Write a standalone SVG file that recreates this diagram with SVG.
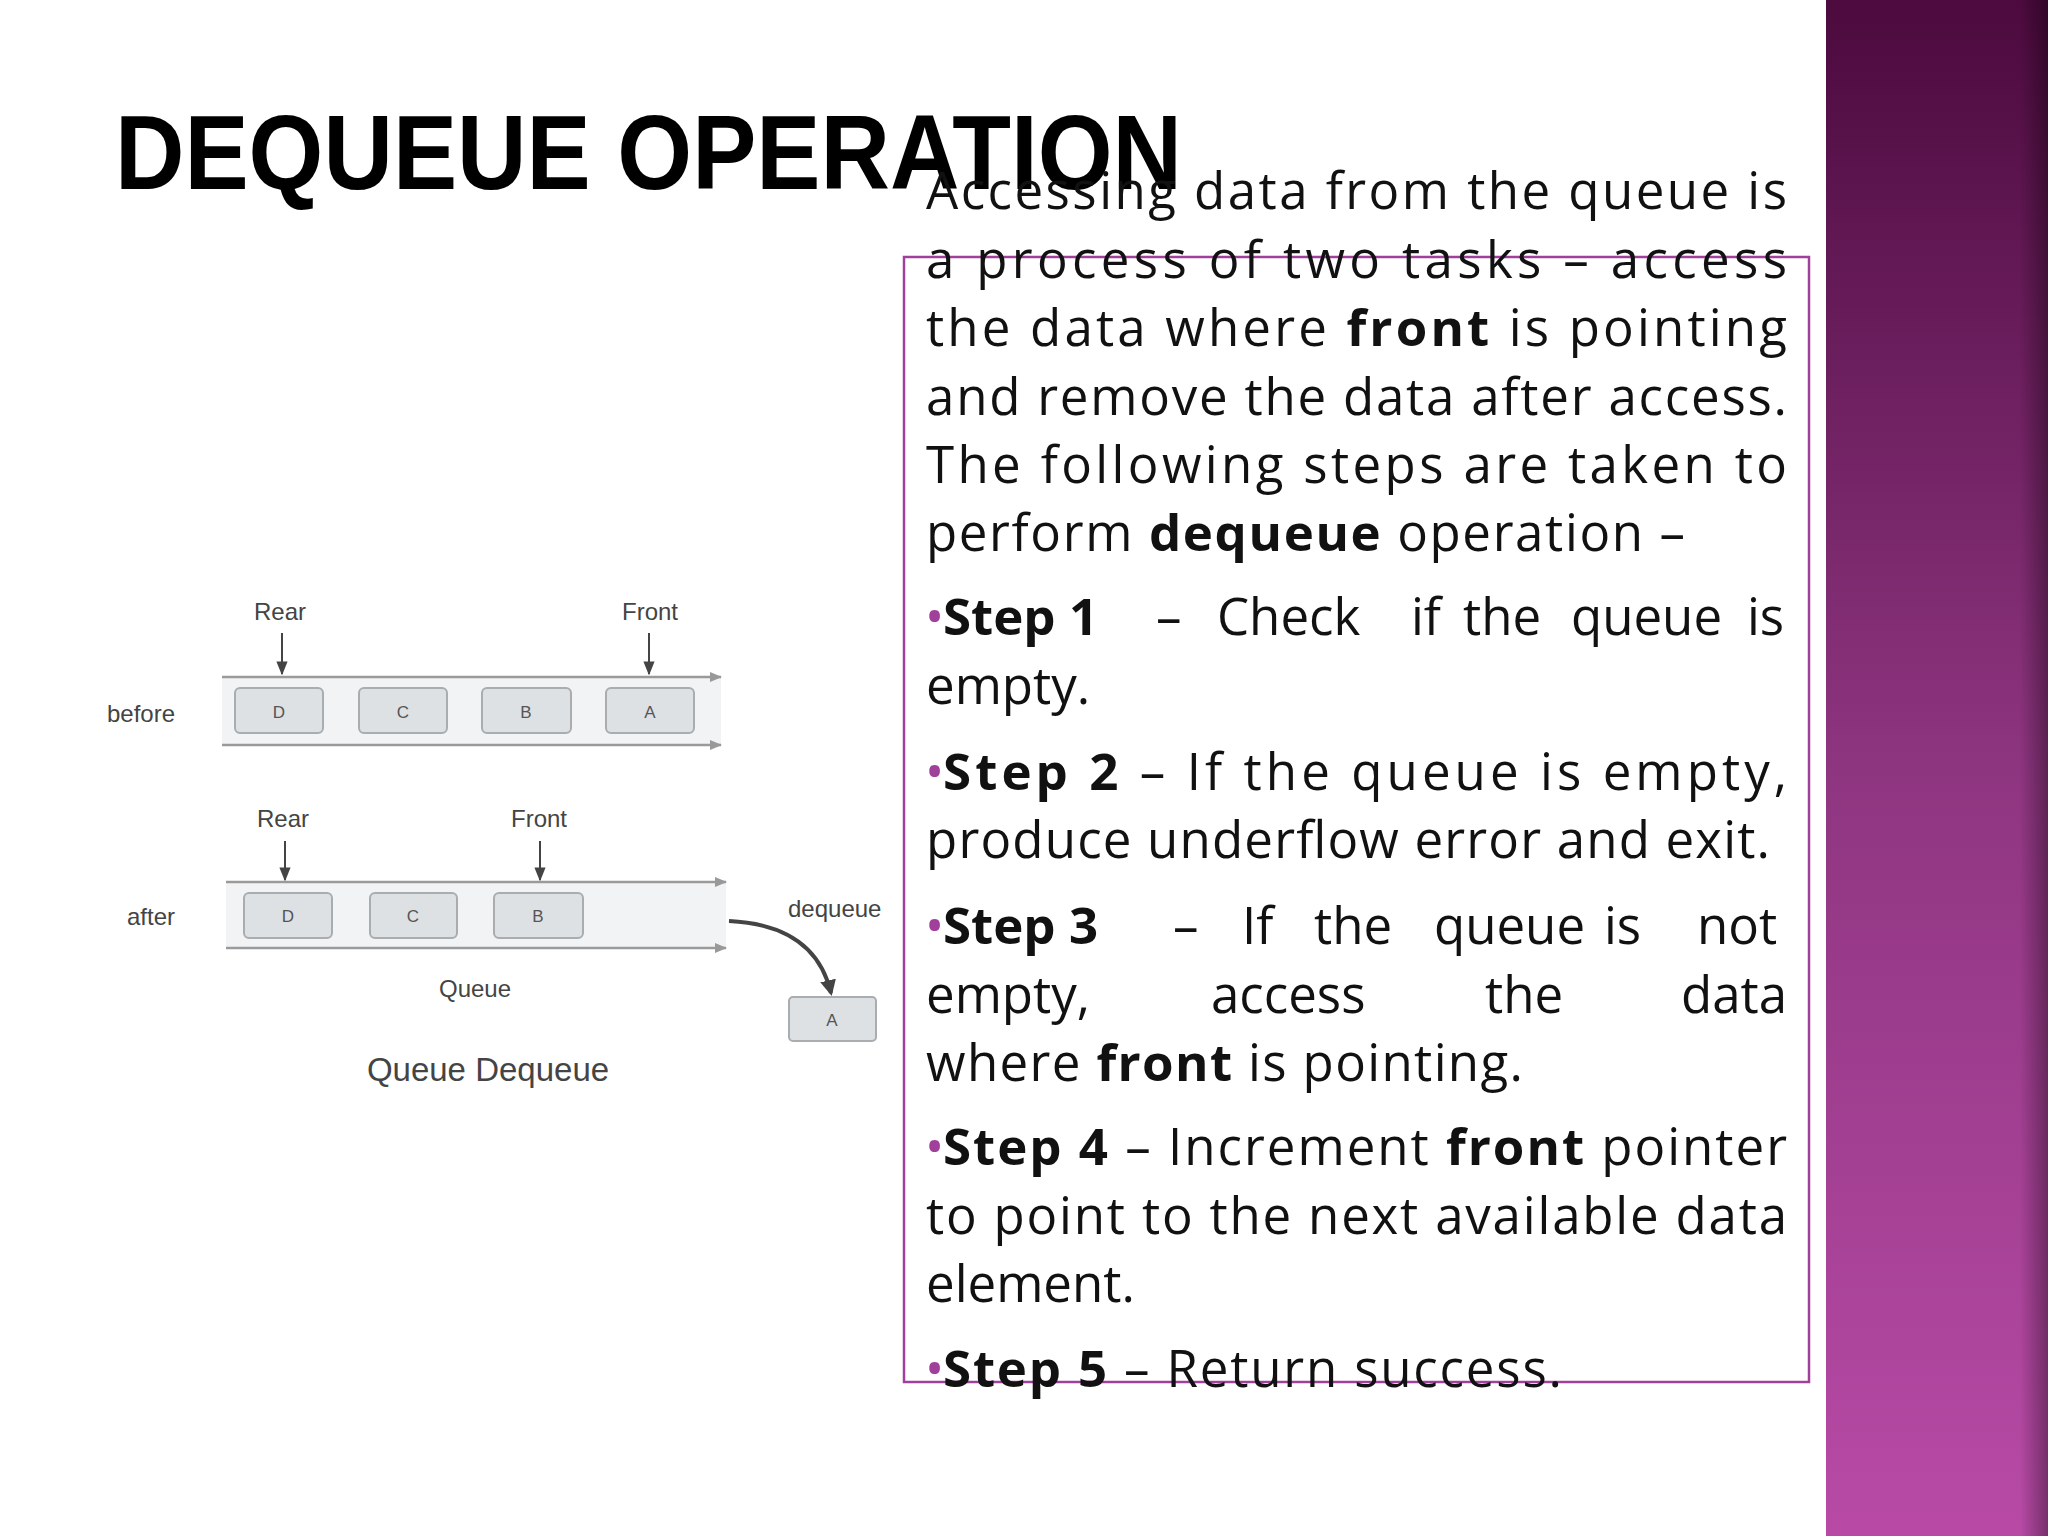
<svg xmlns="http://www.w3.org/2000/svg" width="2048" height="1536" viewBox="0 0 2048 1536">
<defs>
<linearGradient id="pg" x1="0" y1="0" x2="0" y2="1"><stop offset="0" stop-color="#4c0a3e"/><stop offset="0.5" stop-color="#8e3580"/><stop offset="1" stop-color="#b84aa6"/></linearGradient>
<linearGradient id="edge" x1="0" y1="0" x2="1" y2="0"><stop offset="0" stop-color="#000" stop-opacity="0"/><stop offset="1" stop-color="#000" stop-opacity="0.35"/></linearGradient>
<marker id="ah" viewBox="0 0 10 10" refX="9" refY="5" markerWidth="7" markerHeight="7" orient="auto"><path d="M0,1 L10,5 L0,9 z" fill="#444"/></marker>
<marker id="gh" viewBox="0 0 10 10" refX="9" refY="5" markerWidth="5" markerHeight="5" orient="auto"><path d="M0,1 L10,5 L0,9 z" fill="#999"/></marker>
<marker id="bh" viewBox="0 0 10 10" refX="8" refY="5" markerWidth="4" markerHeight="4" orient="auto"><path d="M0,0 L10,5 L0,10 z" fill="#444"/></marker>
</defs>
<style>
.t{font-family:"Open Sans","Liberation Sans",sans-serif;font-size:51px;fill:#111}
.b{font-weight:bold}
.bul{fill:#a0409a}
.cell{fill:#dde1e4;stroke:#a9adb0;stroke-width:2}
.cl{font-family:"Liberation Sans",Arial,sans-serif;font-size:17px;fill:#555;text-anchor:middle}
.lb{font-family:"Liberation Sans",Arial,sans-serif;font-size:24px;fill:#444}
.rail{stroke:#9a9a9a;stroke-width:2.5;fill:none}
.ptr{stroke:#444;stroke-width:2;fill:none}
</style>
<rect width="2048" height="1536" fill="#fff"/>
<rect x="1826" y="0" width="222" height="1536" fill="url(#pg)"/>
<rect x="2020" y="0" width="28" height="1536" fill="url(#edge)"/>
<text x="115" y="189" font-family="Liberation Sans,Arial,sans-serif" font-weight="bold" font-size="106" fill="#000" textLength="1067" lengthAdjust="spacingAndGlyphs">DEQUEUE OPERATION</text>
<rect id="box" x="904" y="257" width="905" height="1125" fill="none" stroke="#a0409a" stroke-width="2.5"/>
<g id="text">
<text class="t" x="926" y="209" textLength="861" lengthAdjust="spacing">Accessing data from the queue is</text>
<text class="t" x="926" y="278" textLength="861" lengthAdjust="spacing">a process of two tasks – access</text>
<text class="t" x="926" y="346" textLength="861" lengthAdjust="spacing">the data where <tspan class="b">front</tspan> is pointing</text>
<text class="t" x="926" y="415" textLength="861" lengthAdjust="spacing">and remove the data after access.</text>
<text class="t" x="926" y="483" textLength="861" lengthAdjust="spacing">The following steps are taken to</text>
<text class="t" x="926" y="551" textLength="759" lengthAdjust="spacing">perform <tspan class="b">dequeue</tspan> operation –</text>
<text class="t bul" x="925" y="635" font-size="30">•</text>
<text class="t" y="635"><tspan class="b" x="943">Step 1</tspan><tspan x="1156">–</tspan><tspan x="1217">Check</tspan><tspan x="1411">if</tspan><tspan x="1463">the</tspan><tspan x="1571">queue</tspan><tspan x="1747">is</tspan></text>
<text class="t" x="926" y="704">empty.</text>
<text class="t bul" x="925" y="790" font-size="30">•</text>
<text class="t" x="943" y="790" textLength="844" lengthAdjust="spacing"><tspan class="b">Step 2</tspan> – If the queue is empty,</text>
<text class="t" x="926" y="858" textLength="844" lengthAdjust="spacing">produce underflow error and exit.</text>
<text class="t bul" x="925" y="944" font-size="30">•</text>
<text class="t" y="944"><tspan class="b" x="943">Step 3</tspan><tspan x="1173">–</tspan><tspan x="1242">If</tspan><tspan x="1314">the</tspan><tspan x="1434">queue</tspan><tspan x="1604">is</tspan><tspan x="1697">not</tspan></text>
<text class="t" y="1013"><tspan x="926">empty,</tspan><tspan x="1211">access</tspan><tspan x="1485">the</tspan><tspan x="1681">data</tspan></text>
<text class="t" x="926" y="1081" textLength="597" lengthAdjust="spacing">where <tspan class="b">front</tspan> is pointing.</text>
<text class="t bul" x="925" y="1165" font-size="30">•</text>
<text class="t" x="943" y="1165" textLength="844" lengthAdjust="spacing"><tspan class="b">Step 4</tspan> – Increment <tspan class="b">front</tspan> pointer</text>
<text class="t" x="926" y="1234" textLength="861" lengthAdjust="spacing">to point to the next available data</text>
<text class="t" x="926" y="1302">element.</text>
<text class="t bul" x="925" y="1387" font-size="30">•</text>
<text class="t" x="943" y="1387" textLength="619" lengthAdjust="spacing"><tspan class="b">Step 5</tspan> – Return success.</text>
</g>
<g id="before">
<rect x="222" y="677" width="499" height="68" fill="#f2f3f4"/>
<text class="lb" x="107" y="722">before</text>
<g id="b-D"><rect class="cell" x="235" y="688" width="88" height="45" rx="5"/><text class="cl" x="279" y="718">D</text></g>
<g id="b-C"><rect class="cell" x="359" y="688" width="88" height="45" rx="5"/><text class="cl" x="403" y="718">C</text></g>
<g id="b-B"><rect class="cell" x="482" y="688" width="89" height="45" rx="5"/><text class="cl" x="526" y="718">B</text></g>
<g id="b-A"><rect class="cell" x="606" y="688" width="88" height="45" rx="5"/><text class="cl" x="650" y="718">A</text></g>
<text class="lb" x="280" y="620" text-anchor="middle">Rear</text>
<text class="lb" x="650" y="620" text-anchor="middle">Front</text>
</g>
<g id="after">
<rect x="226" y="882" width="500" height="66" fill="#f2f3f4"/>
<text class="lb" x="127" y="925">after</text>
<g id="a-D"><rect class="cell" x="244" y="893" width="88" height="45" rx="5"/><text class="cl" x="288" y="922">D</text></g>
<g id="a-C"><rect class="cell" x="370" y="893" width="87" height="45" rx="5"/><text class="cl" x="413" y="922">C</text></g>
<g id="a-B"><rect class="cell" x="494" y="893" width="89" height="45" rx="5"/><text class="cl" x="538" y="922">B</text></g>
<text class="lb" x="283" y="827" text-anchor="middle">Rear</text>
<text class="lb" x="539" y="827" text-anchor="middle">Front</text>
<text class="lb" x="788" y="917">dequeue</text>
<text class="lb" x="475" y="997" text-anchor="middle">Queue</text>
</g>
<g id="out-A"><rect class="cell" x="789" y="997" width="87" height="44" rx="4"/><text class="cl" x="832" y="1026">A</text></g>
<text x="488" y="1081" font-family="Liberation Sans,Arial,sans-serif" font-size="33" fill="#444" text-anchor="middle">Queue Dequeue</text>
<g id="connectors">
<line class="rail" x1="222" y1="677" x2="721" y2="677" marker-end="url(#gh)"/>
<line class="rail" x1="222" y1="745" x2="721" y2="745" marker-end="url(#gh)"/>
<line class="rail" x1="226" y1="882" x2="726" y2="882" marker-end="url(#gh)"/>
<line class="rail" x1="226" y1="948" x2="726" y2="948" marker-end="url(#gh)"/>
<line class="ptr" x1="282" y1="633" x2="282" y2="674" marker-end="url(#ah)"/>
<line class="ptr" x1="649" y1="633" x2="649" y2="674" marker-end="url(#ah)"/>
<line class="ptr" x1="285" y1="841" x2="285" y2="880" marker-end="url(#ah)"/>
<line class="ptr" x1="540" y1="841" x2="540" y2="880" marker-end="url(#ah)"/>
<path d="M729,921 Q815,925 831,993" stroke="#444" stroke-width="4" fill="none" marker-end="url(#bh)"/>
</g>
</svg>
